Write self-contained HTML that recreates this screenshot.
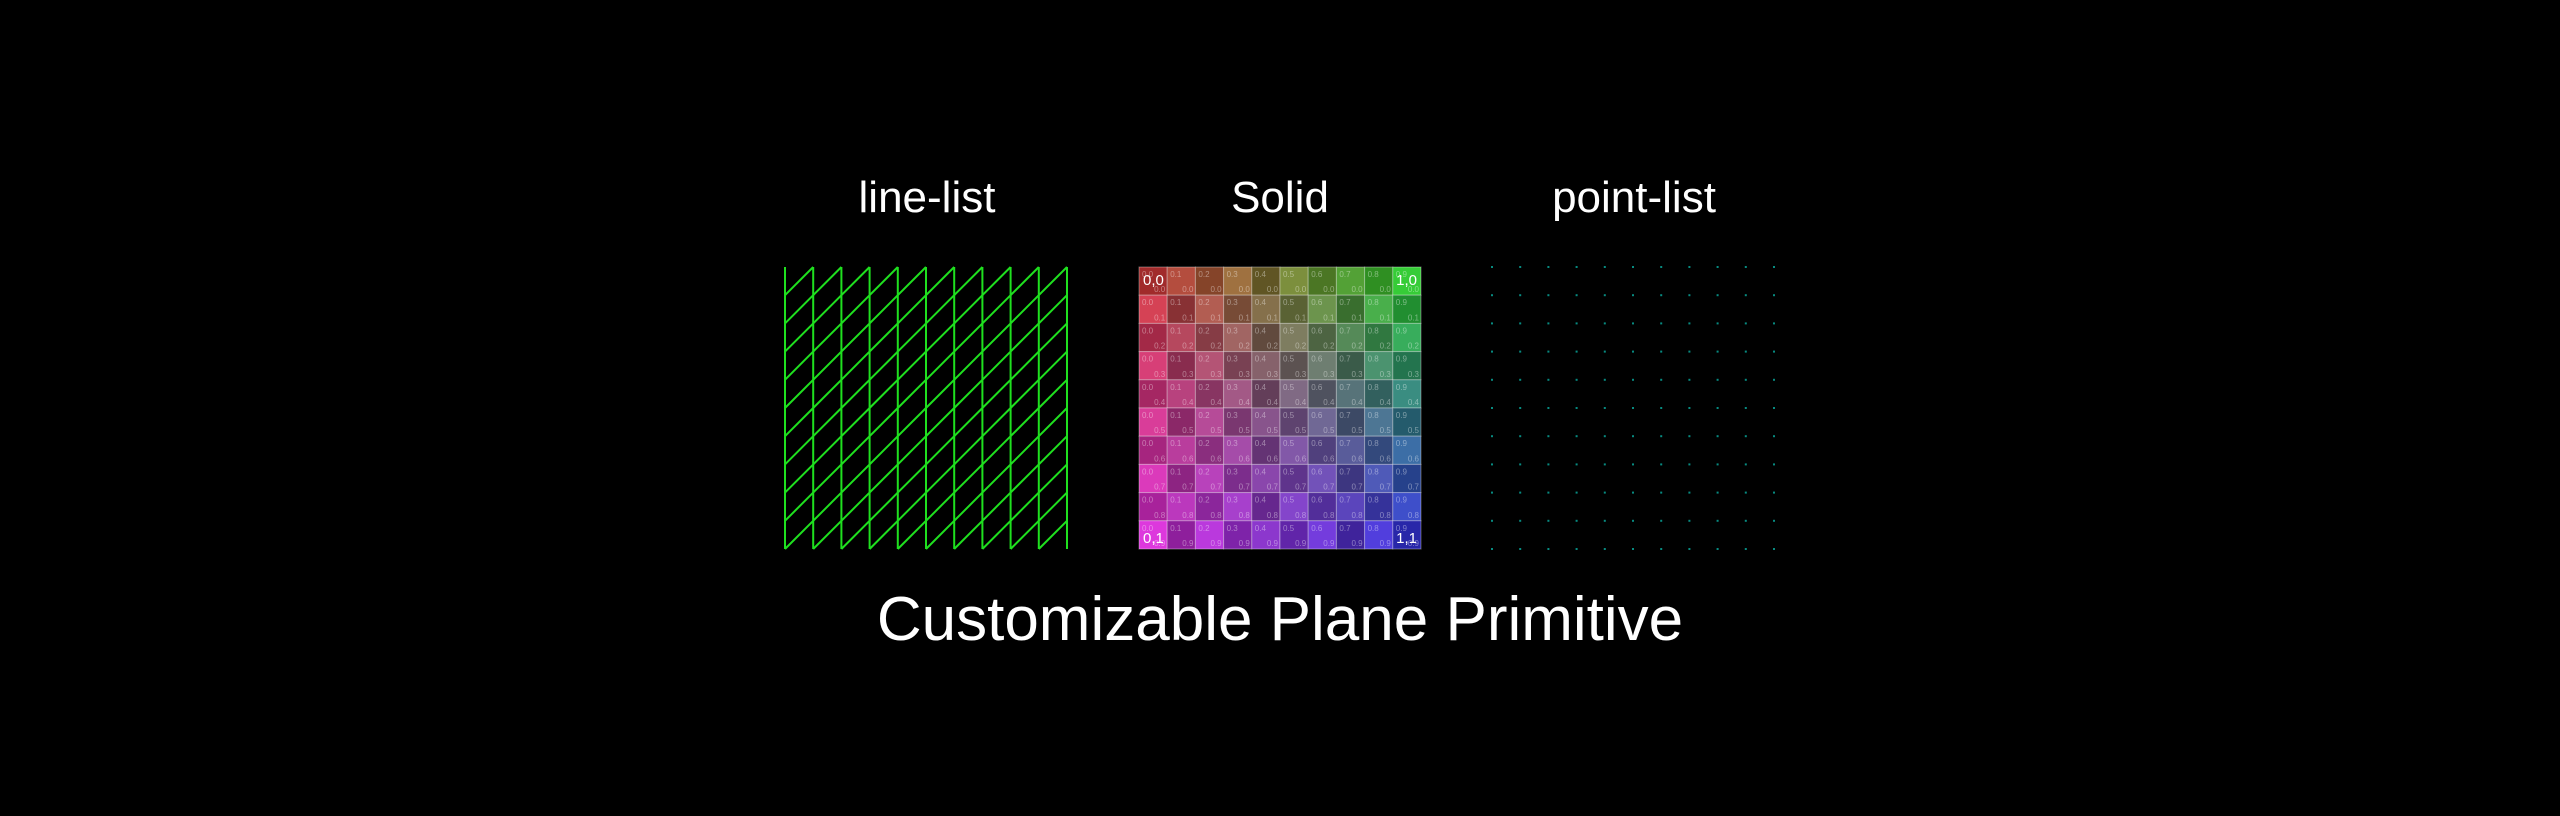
<!DOCTYPE html>
<html><head><meta charset="utf-8"><style>
html,body{margin:0;padding:0;background:#000;width:2560px;height:816px;overflow:hidden}
svg{display:block}
text{font-family:"Liberation Sans",Arial,sans-serif}
</style></head><body>
<svg id="c" width="2560" height="816" viewBox="0 0 2560 816">
<text x="927" y="212" fill="#fff" font-size="44" text-anchor="middle">line-list</text>
<text x="1280" y="212" fill="#fff" font-size="44" text-anchor="middle">Solid</text>
<text x="1634" y="212" fill="#fff" font-size="44" text-anchor="middle">point-list</text>
<text x="1280" y="640" fill="#fff" font-size="62" text-anchor="middle">Customizable Plane Primitive</text>
<g id="lines"></g>
<g id="solid"></g>
<g id="points"></g>
</svg>
<script>
const uTicks=[0,0.1,0.2,0.3,0.4,0.5,0.6,0.7,0.8,0.9];
const vTicks=[0,0.1,0.2,0.3,0.4,0.5,0.6,0.7,0.8,0.9];
const cornerLabels=["0,0","1,0","0,1","1,1"];
const NS="http://www.w3.org/2000/svg";
const N=uTicks.length, S=282, Y0=267;
function el(t,a,p){const e=document.createElementNS(NS,t);for(const k in a)e.setAttribute(k,a[k]);p.appendChild(e);return e;}
function sx(x0,u){return x0+u*S;}
function sy(v){return Y0+v*S;}
const L=document.getElementById('lines');
for(let i=0;i<=N;i++){
  const u=i/N;
  const ln=el('line',{x1:sx(785,u),y1:sy(0),x2:sx(785,u),y2:sy(1),stroke:'#1fe01f','stroke-width':2},L);
  
  
}
for(let i=0;i<N;i++)for(let j=0;j<N;j++){
  const d=el('line',{x1:sx(785,i/N),y1:sy((j+1)/N),x2:sx(785,(i+1)/N),y2:sy(j/N),stroke:'#1fe01f','stroke-width':2},L);
  
  
}
const G=document.getElementById('solid');
const TL=[205,45,45],TR=[30,205,30],BL=[215,40,215],BR=[40,40,215];
for(let j=0;j<N;j++)for(let i=0;i<N;i++){
  const u=(i+.5)/N,v=(j+.5)/N;
  const c=[0,1,2].map(k=>{const t=TL[k]*(1-u)+TR[k]*u,b=BL[k]*(1-u)+BR[k]*u;return t*(1-v)+b*v;});
  const f=((i+j)%2?1.0:0.82)*(i%3==1?0.92:1);
  const col='rgb('+c.map(x=>Math.min(255,Math.round(x*f+ (f>0.9?15:0)))).join(',')+')';
  const r=el('rect',{x:sx(1139,i/N),y:sy(j/N),width:S/N,height:S/N,fill:col,stroke:'rgba(255,255,255,0.35)','stroke-width':1},G);
  
  
  const t1=el('text',{x:sx(1139,i/N)+3,y:sy(j/N)+10,fill:'rgba(255,255,255,0.4)','font-size':8},G);
  t1.textContent=uTicks[i].toFixed(1);
  
  
  const t2=el('text',{x:sx(1139,(i+1)/N)-2,y:sy((j+1)/N)-3,fill:'rgba(255,255,255,0.4)','font-size':8,'text-anchor':'end'},G);
  t2.textContent=vTicks[j].toFixed(1);
  
  
}
const cp=[[0,0,'start'],[1,0,'end'],[0,1,'start'],[1,1,'end']];
cp.forEach((p,k)=>{
  const t=el('text',{x:sx(1139,p[0])+(p[0]?-4:4),y:sy(p[1])+(p[1]?-6:18),fill:'#fff','font-size':15,'text-anchor':p[2]},G);
  t.textContent=cornerLabels[k];
  
  
});
const P=document.getElementById('points');
for(let i=0;i<=N;i++)for(let j=0;j<=N;j++){
  const d=el('rect',{x:sx(1492,i/N)-1,y:sy(j/N)-1,width:2,height:2,fill:'#078a80'},P);
  
  
}
</script>
</body></html>
